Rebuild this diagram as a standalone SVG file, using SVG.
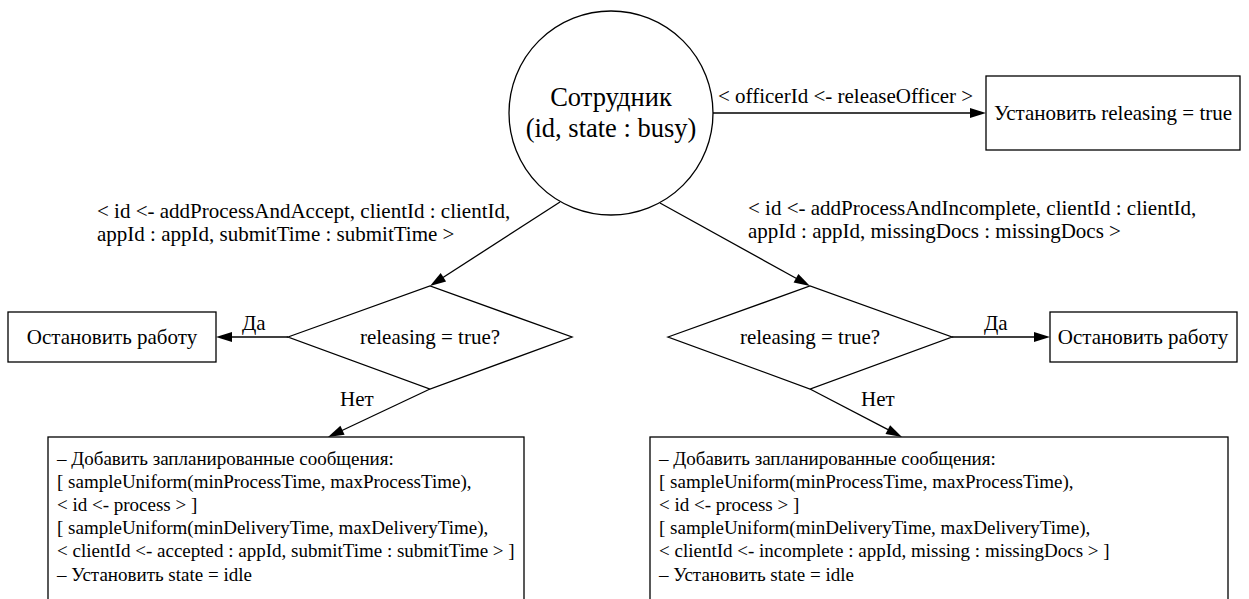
<svg xmlns="http://www.w3.org/2000/svg" width="1249" height="599" viewBox="0 0 1249 599">
<style>
.t{font-family:'Liberation Serif',serif;font-size:21px}
.s{font-family:'Liberation Serif',serif;font-size:19px}
.big{font-family:'Liberation Serif',serif;font-size:26.5px}
</style>
<rect width="1249" height="599" fill="#fff"/>
<g id="connectors">
<g fill="none" stroke="#000" stroke-width="1.3">
<line x1="713" y1="113" x2="971" y2="113"/>
<line x1="560" y1="202" x2="443" y2="277.5"/>
<line x1="660" y1="203" x2="796.5" y2="278.5"/>
<line x1="288" y1="337" x2="231" y2="337"/>
<line x1="952" y1="337" x2="1035" y2="337"/>
<line x1="430" y1="389" x2="342" y2="430.5"/>
<line x1="810" y1="389" x2="888" y2="429.7"/>
</g>
<g fill="#000">
<polygon points="970,108 986,113 970,118"/>
<polygon points="446.1,281.5 430,286 440.7,273.1"/>
<polygon points="793.6,282.6 810,286 798.4,273.9"/>
<polygon points="232,332 216,337 232,342"/>
<polygon points="1034,332 1050,337 1034,342"/>
<polygon points="344.6,434.7 328,437 340.4,425.7"/>
<polygon points="885.5,434.0 902,437 890.1,425.2"/>
</g>
<text class="t" x="718" y="103">&lt; officerId &lt;- releaseOfficer &gt;</text>
<text class="t" x="97" y="218">&lt; id &lt;- addProcessAndAccept, clientId : clientId,</text>
<text class="t" x="97" y="241">appId : appId, submitTime : submitTime &gt;</text>
<text class="t" x="748" y="215">&lt; id &lt;- addProcessAndIncomplete, clientId : clientId,</text>
<text class="t" x="748" y="238">appId : appId, missingDocs : missingDocs &gt;</text>
<text class="t" x="242" y="330">Да</text>
<text class="t" x="984" y="330">Да</text>
<text class="t" x="340" y="406">Нет</text>
<text class="t" x="861" y="406">Нет</text>
</g>
<g fill="#fff" stroke="#000" stroke-width="1.3">
<g id="employee">
<circle cx="611" cy="113" r="102"/>
</g>
<g id="set-releasing">
<rect x="986" y="76" width="254" height="74"/>
</g>
<g id="decision-left">
<polygon points="288,337 430,286 572,337 430,389"/>
</g>
<g id="stop-left">
<rect x="8" y="312" width="208" height="50"/>
</g>
<g id="decision-right">
<polygon points="668,337 810,286 952,337 810,389"/>
</g>
<g id="stop-right">
<rect x="1050" y="312" width="187" height="50"/>
</g>
<g id="actions-left">
<rect x="48" y="437" width="476" height="175"/>
</g>
<g id="actions-right">
<rect x="650" y="437" width="578" height="175"/>
</g>
</g>
<g id="labels" fill="#000">
<text class="big" x="611" y="106" text-anchor="middle">Сотрудник</text>
<text class="big" x="611" y="137" text-anchor="middle">(id, state : busy)</text>
<text class="t" x="1113" y="120" text-anchor="middle">Установить releasing = true</text>
<text class="t" x="430" y="344" text-anchor="middle">releasing = true?</text>
<text class="t" x="112" y="344" text-anchor="middle">Остановить работу</text>
<text class="t" x="810" y="344" text-anchor="middle">releasing = true?</text>
<text class="t" x="1143" y="344" text-anchor="middle">Остановить работу</text>
<text class="s" x="57" y="465">– Добавить запланированные сообщения:</text>
<text class="s" x="57" y="488">[ sampleUniform(minProcessTime, maxProcessTime),</text>
<text class="s" x="57" y="511">&lt; id &lt;- process &gt; ]</text>
<text class="s" x="57" y="534">[ sampleUniform(minDeliveryTime, maxDeliveryTime),</text>
<text class="s" x="57" y="557">&lt; clientId &lt;- accepted : appId, submitTime : submitTime &gt; ]</text>
<text class="s" x="57" y="581">– Установить state = idle</text>
<text class="s" x="659" y="465">– Добавить запланированные сообщения:</text>
<text class="s" x="659" y="488">[ sampleUniform(minProcessTime, maxProcessTime),</text>
<text class="s" x="659" y="511">&lt; id &lt;- process &gt; ]</text>
<text class="s" x="659" y="534">[ sampleUniform(minDeliveryTime, maxDeliveryTime),</text>
<text class="s" x="659" y="557">&lt; clientId &lt;- incomplete : appId, missing : missingDocs &gt; ]</text>
<text class="s" x="659" y="581">– Установить state = idle</text>
</g>
</svg>
